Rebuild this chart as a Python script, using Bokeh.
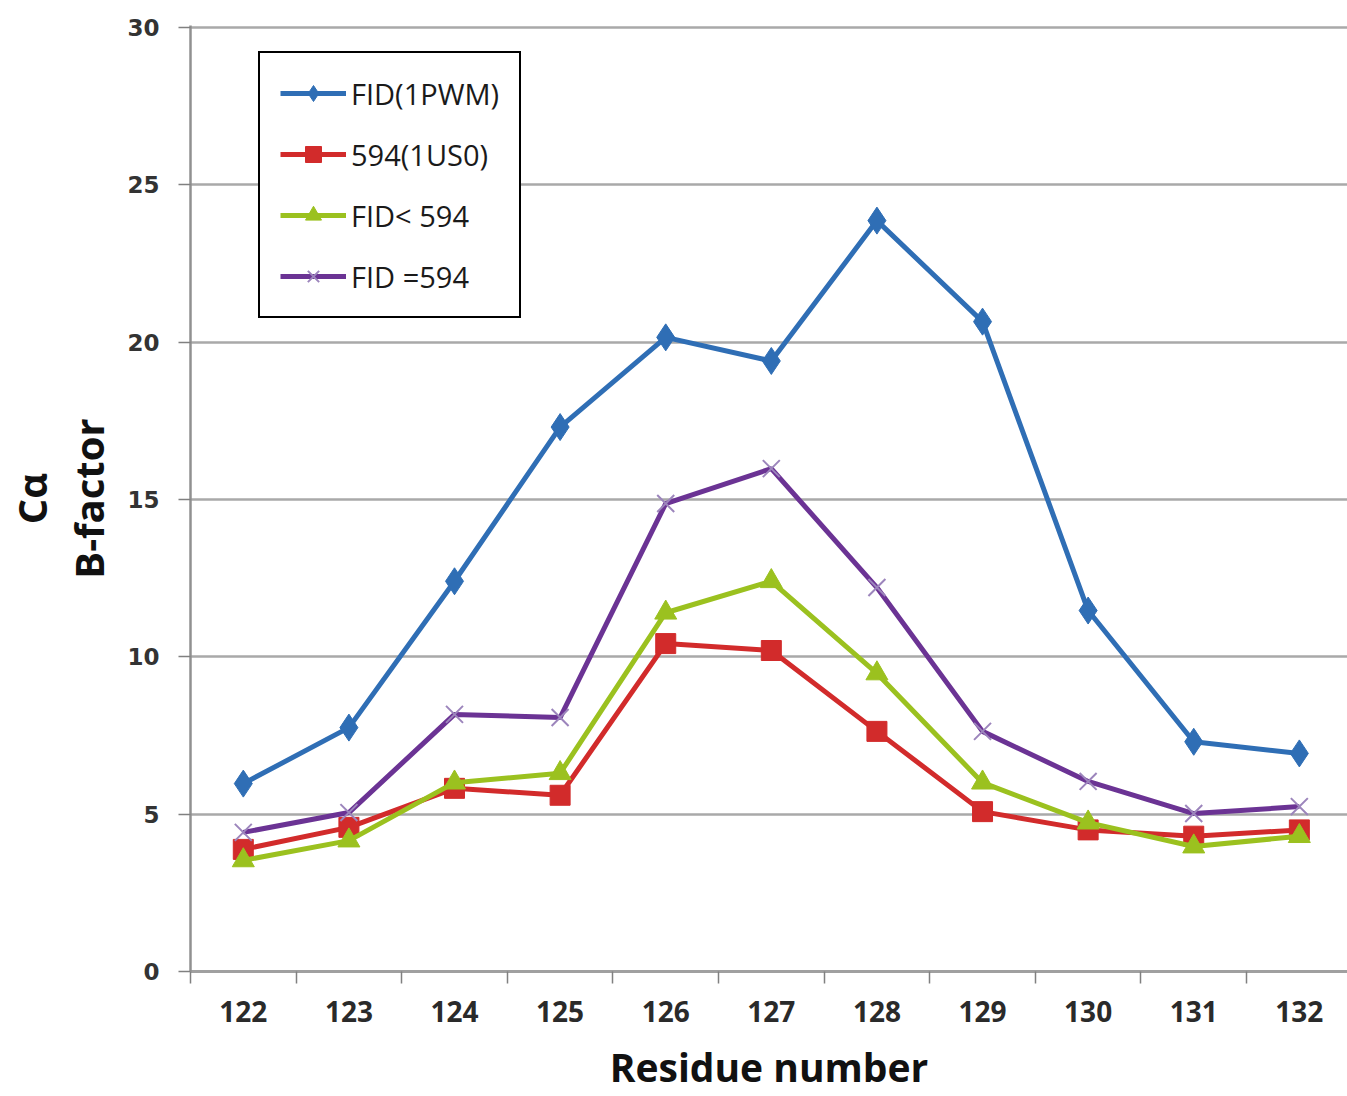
from bokeh.plotting import figure
from bokeh.models import Range1d, FixedTicker, Legend, LegendItem
from bokeh.embed import file_html
from bokeh.resources import INLINE

residues = [122, 123, 124, 125, 126, 127, 128, 129, 130, 131, 132]
fid_1pwm = [5.97, 7.75, 12.4, 17.3, 20.15, 19.4, 23.86, 20.65, 11.47, 7.3, 6.93]
s594_1us0 = [3.88, 4.58, 5.82, 5.6, 10.42, 10.2, 7.63, 5.08, 4.5, 4.3, 4.5]
fid_lt_594 = [3.53, 4.16, 6.0, 6.3, 11.4, 12.4, 9.47, 6.0, 4.73, 3.97, 4.3]
fid_eq_594 = [4.42, 5.05, 8.17, 8.07, 14.87, 15.98, 12.2, 7.63, 6.04, 5.02, 5.24]
y_ticks = [0, 5, 10, 15, 20, 25, 30]
series_names = ["FID(1PWM)", "594(1US0)", "FID< 594", "FID =594"]

W, H = 1347, 1096
p = figure(width=W, height=H, output_backend="svg", toolbar_location=None,
           x_range=Range1d(121.5, 132.456), y_range=Range1d(0, 30.06),
           min_border_left=190, min_border_right=0, min_border_top=25,
           min_border_bottom=125)
p.outline_line_color = None
p.background_fill_color = "white"
p.border_fill_color = "white"

# grid
p.xgrid.visible = False
p.ygrid.ticker = FixedTicker(ticks=y_ticks)
p.ygrid.grid_line_color = "#a9a9a9"
p.ygrid.grid_line_width = 2.5

# x axis
xa = p.xaxis[0]
xa.ticker = FixedTicker(ticks=residues,
                        minor_ticks=[121.5] + [r + 0.5 for r in residues[:-1]])
xa.major_tick_out = 0
xa.major_tick_in = 0
xa.minor_tick_out = 12
xa.minor_tick_in = 0
xa.minor_tick_line_color = "#808080"
xa.minor_tick_line_width = 1.5
xa.axis_line_color = "#a0a0a0"
xa.axis_line_width = 3
xa.major_label_text_font = "Open Sans"
xa.major_label_text_font_style = "bold"
xa.major_label_text_font_size = "28px"
xa.major_label_text_color = "#2a2a2a"
xa.major_label_standoff = 17
xa.axis_label = "Residue number"
xa.axis_label_text_font = "Open Sans"
xa.axis_label_text_font_style = "bold"
xa.axis_label_text_font_size = "39px"
xa.axis_label_text_color = "#111111"
xa.axis_label_standoff = 15

# y axis
ya = p.yaxis[0]
ya.ticker = FixedTicker(ticks=y_ticks)
ya.major_tick_out = 12
ya.major_tick_in = 0
ya.major_tick_line_color = "#808080"
ya.major_tick_line_width = 1.5
ya.minor_tick_line_color = None
ya.axis_line_color = "#909090"
ya.axis_line_width = 2.5
ya.major_label_text_font = "DejaVu Sans"
ya.major_label_text_font_style = "bold"
ya.major_label_text_font_size = "23px"
ya.major_label_text_color = "#333333"
ya.major_label_standoff = 19
ya.axis_label = "C\u03b1\nB-factor"
ya.axis_label_text_font = "Open Sans"
ya.axis_label_text_font_style = "bold"
ya.axis_label_text_font_size = "40px"
ya.axis_label_text_line_height = 1.05
ya.axis_label_text_color = "#111111"
ya.axis_label_standoff = 8

blue = "#2F6EB5"
red = "#D22B2B"
green = "#9BC11F"
purple = "#6B3394"
purple_light = "#9C85BC"

lw = 5
l1 = p.line(residues, fid_1pwm, line_color=blue, line_width=lw)
m1 = p.scatter(residues, fid_1pwm, marker="diamond", size=27, fill_color=blue, line_color=blue)
l2 = p.line(residues, s594_1us0, line_color=red, line_width=lw)
m2 = p.scatter(residues, s594_1us0, marker="square", size=20, fill_color=red, line_color=red)
l3 = p.line(residues, fid_lt_594, line_color=green, line_width=lw)
m3 = p.scatter(residues, fid_lt_594, marker="triangle", size=22, fill_color=green, line_color=green)
l4 = p.line(residues, fid_eq_594, line_color=purple, line_width=lw)
m4 = p.scatter(residues, fid_eq_594, marker="x", size=24, line_color=purple_light, line_width=2)

legend = Legend(items=[
    LegendItem(label=series_names[0], renderers=[l1, m1]),
    LegendItem(label=series_names[1], renderers=[l2, m2]),
    LegendItem(label=series_names[2], renderers=[l3, m3]),
    LegendItem(label=series_names[3], renderers=[l4, m4]),
], location=(68, 653))
legend.glyph_width = 66
legend.glyph_height = 40
legend.label_height = 40
legend.spacing = 21
legend.padding = 20
legend.margin = 0
legend.label_standoff = 5
legend.label_text_font = "Open Sans"
legend.label_text_font_size = "29px"
legend.label_text_color = "#1a1a1a"
legend.border_line_color = "black"
legend.border_line_alpha = 1.0
legend.border_line_width = 2.5
legend.background_fill_color = "white"
legend.background_fill_alpha = 1.0
p.add_layout(legend, "center")

open("out.html", "w").write(file_html(p, INLINE))
